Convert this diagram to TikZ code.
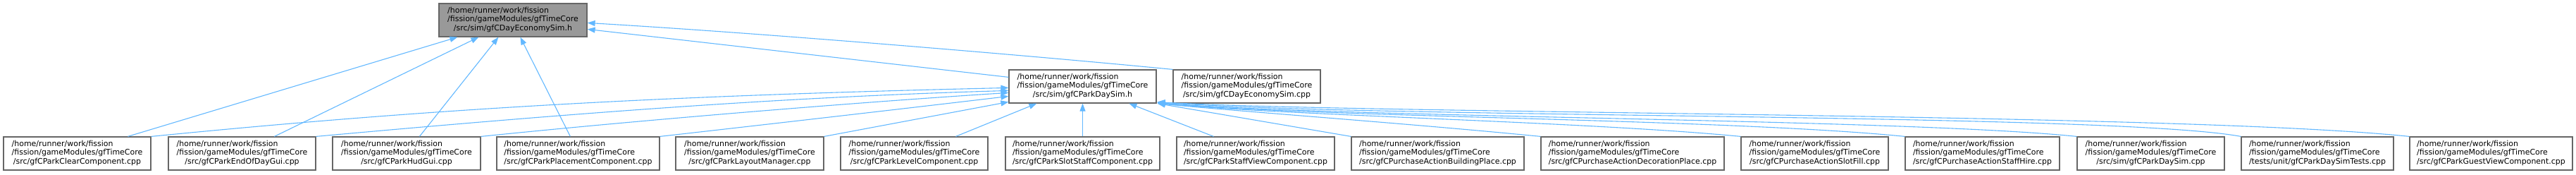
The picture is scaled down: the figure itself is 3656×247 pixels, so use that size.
\documentclass[tikz,border=0pt]{standalone}
\usepackage{fontspec}
\setmainfont{DejaVu Sans}
\usetikzlibrary{arrows.meta,calc}
\definecolor{edgeblue}{HTML}{63B8FF}
\definecolor{boxgray}{HTML}{666666}
\definecolor{rootfill}{HTML}{999999}
\newcommand{\dlabel}[3]{\begin{tabular}{@{}l@{}}#1\\#2\\\multicolumn{1}{@{}c@{}}{#3}\end{tabular}}
\newcommand{\hm}{/home/runner/work/fission}
\newcommand{\fg}{/fission/gameModules/gfTimeCore}
\begin{document}
\begin{tikzpicture}[x=1pt,y=-1pt,
  filebox/.style={draw=boxgray, line width=1.2pt, fill=white, inner sep=0pt,
    minimum height=47pt, font=\fontsize{10.95}{12.3}\selectfont},
  rootbox/.style={filebox, fill=rootfill},
  edge/.style={draw=edgeblue, line width=1.1pt, -{Triangle[length=11pt,width=8pt]}}]
\useasboundingbox (0,0) rectangle (3656,247);
% nodes
\node[rootbox, minimum width=210pt] (root) at (728,28.5) {\dlabel{\hm}{\fg}{/src/sim/gfCDayEconomySim.h}};
\node[filebox, minimum width=209pt] (dsh) at (1536.5,122.5) {\dlabel{\hm}{\fg}{/src/sim/gfCParkDaySim.h}};
\node[filebox, minimum width=209pt] (ecc) at (1769.5,122.5) {\dlabel{\hm}{\fg}{/src/sim/gfCDayEconomySim.cpp}};
\node[filebox, minimum width=209pt] (b1) at (109.5,217.5) {\dlabel{\hm}{\fg}{/src/gfCParkClearComponent.cpp}};
\node[filebox, minimum width=209pt] (b2) at (343.5,217.5) {\dlabel{\hm}{\fg}{/src/gfCParkEndOfDayGui.cpp}};
\node[filebox, minimum width=210pt] (b3) at (577,217.5) {\dlabel{\hm}{\fg}{/src/gfCParkHudGui.cpp}};
\node[filebox, minimum width=231pt] (b4) at (820.5,217.5) {\dlabel{\hm}{\fg}{/src/gfCParkPlacementComponent.cpp}};
\node[filebox, minimum width=210pt] (b5) at (1064,217.5) {\dlabel{\hm}{\fg}{/src/gfCParkLayoutManager.cpp}};
\node[filebox, minimum width=209pt] (b6) at (1297.5,217.5) {\dlabel{\hm}{\fg}{/src/gfCParkLevelComponent.cpp}};
\node[filebox, minimum width=219pt] (b7) at (1536.5,217.5) {\dlabel{\hm}{\fg}{/src/gfCParkSlotStaffComponent.cpp}};
\node[filebox, minimum width=224pt] (b8) at (1782,217.5) {\dlabel{\hm}{\fg}{/src/gfCParkStaffViewComponent.cpp}};
\node[filebox, minimum width=245pt] (b9) at (2040.5,217.5) {\dlabel{\hm}{\fg}{/src/gfCPurchaseActionBuildingPlace.cpp}};
\node[filebox, minimum width=260pt] (b10) at (2317,217.5) {\dlabel{\hm}{\fg}{/src/gfCPurchaseActionDecorationPlace.cpp}};
\node[filebox, minimum width=209pt] (b11) at (2575.5,217.5) {\dlabel{\hm}{\fg}{/src/gfCPurchaseActionSlotFill.cpp}};
\node[filebox, minimum width=219pt] (b12) at (2813.5,217.5) {\dlabel{\hm}{\fg}{/src/gfCPurchaseActionStaffHire.cpp}};
\node[filebox, minimum width=209pt] (b13) at (3052.5,217.5) {\dlabel{\hm}{\fg}{/src/sim/gfCParkDaySim.cpp}};
\node[filebox, minimum width=216pt] (b14) at (3289,217.5) {\dlabel{\hm}{\fg}{/tests/unit/gfCParkDaySimTests.cpp}};
\node[filebox, minimum width=231pt] (b15) at (3535.5,217.5) {\dlabel{\hm}{\fg}{/src/gfCParkGuestViewComponent.cpp}};
% edges into root
\draw[edge] ($(b1.north west)+(177,0)$) -- ($(root.south west)+(27,0)$);
\draw[edge] ($(b2.north west)+(151,0)$) -- ($(root.south west)+(57,0)$);
\draw[edge] ($(b3.north west)+(124,0)$) -- ($(root.south west)+(85,0)$);
\draw[edge] ($(b4.north west)+(105,0)$) -- ($(root.south west)+(116,0)$);
\draw[edge] ($(dsh.north west)+(0,11)$) -- ($(root.north east)+(0,37)$);
\draw[edge] (ecc.north west) .. controls (1465,79) and (1083,47) .. ($(root.north east)+(0,28)$);
% edges into gfCParkDaySim.h
\draw[edge] (b1.north east) .. controls (614,154) and (932,136) .. ($(dsh.north west)+(0,26)$);
\draw[edge] (b2.north east) .. controls (850,157) and (1132,137) .. ($(dsh.north west)+(0,30)$);
\draw[edge] (b3.north east) .. controls (932,168) and (1232,144) .. ($(dsh.north west)+(0,33)$);
\draw[edge] (b4.north east) .. controls (1100,175) and (1300,152) .. ($(dsh.north west)+(0,38)$);
\draw[edge] (b5.north east) -- ($(dsh.north west)+(0,46)$);
\draw[edge] ($(b6.north west)+(164,0)$) -- ($(dsh.south west)+(40,0)$);
\draw[edge] (b7.north) -- (dsh.south);
\draw[edge] ($(b8.north west)+(53,0)$) -- ($(dsh.south west)+(171,0)$);
\draw[edge] (b9.north west) -- ($(dsh.south east)+(1,0)$);
\draw[edge] (b10.north west) .. controls (2000,175) and (1760,158) .. ($(dsh.south east)+(1,0)$);
\draw[edge] (b11.north west) .. controls (2250,172) and (1800,163) .. ($(dsh.south east)+(1,-1)$);
\draw[edge] (b12.north west) .. controls (2450,168) and (1850,166) .. ($(dsh.south east)+(1,-1)$);
\draw[edge] (b13.north west) .. controls (2700,168) and (1900,167) .. ($(dsh.south east)+(1,-1)$);
\draw[edge] (b14.north west) .. controls (3000,160) and (1950,168) .. ($(dsh.south east)+(1,-2)$);
\draw[edge] (b15.north west) .. controls (3100,160) and (1950,162) .. ($(dsh.south east)+(1,-2)$);
\end{tikzpicture}
\end{document}
